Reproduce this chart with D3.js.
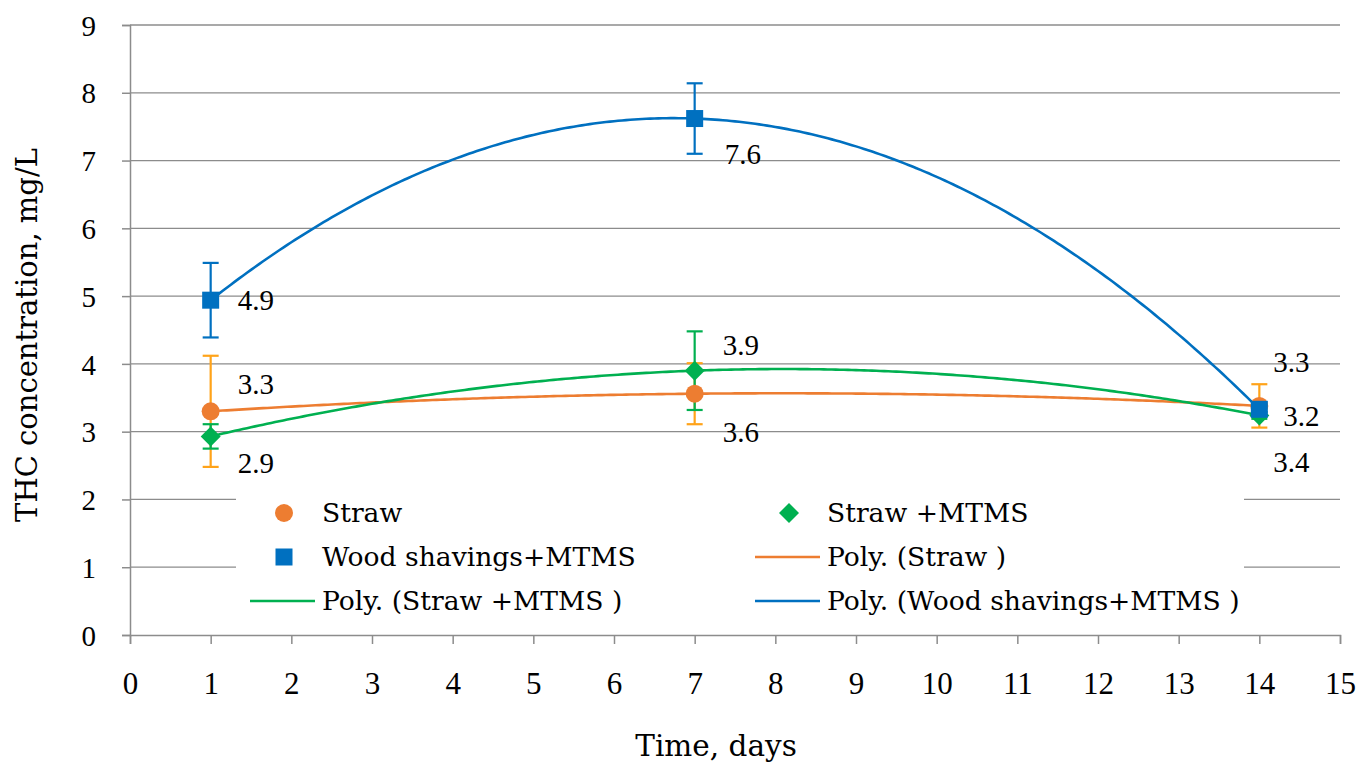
<!DOCTYPE html>
<html><head><meta charset="utf-8">
<script src="https://cdn.jsdelivr.net/npm/d3@7"></script>
<style>body{margin:0;background:#fff}svg{display:block}</style>
</head><body><svg id="c" width="1369" height="764"></svg>
<script>
// ---- data ----
const days = [1, 7, 14];
const straw = [3.30, 3.56, 3.38];
const strawErr = [0.82, 0.45, 0.32];
const strawMTMS = [2.93, 3.90, 3.24];
const strawMTMSErr = [0.18, 0.58, 0.05];
const wood = [4.94, 7.62, 3.33];
const woodErr = [0.55, 0.52, 0.04];
const strawLabels = ["3.3", "3.6", "3.4"];
const strawMTMSLabels = ["2.9", "3.9", "3.2"];
const woodLabels = ["4.9", "7.6", "3.3"];
const xTicks = d3.range(0, 16);
const yTicks = d3.range(0, 10);

// ---- styles ----
const NUMF = '"Liberation Serif", serif';
const TXTF = '"DejaVu Serif", serif';
const series = [
  {name:"Straw", vals:straw, err:strawErr, labels:strawLabels, color:"#ED7D31", errColor:"#FFA319", shape:"circle",
   lab:[[27,-27],[28,38],[14,56]]},
  {name:"Straw +MTMS", vals:strawMTMS, err:strawMTMSErr, labels:strawMTMSLabels, color:"#00B050", errColor:"#00B050", shape:"diamond",
   lab:[[27,26],[28,-26],[24,0]]},
  {name:"Wood shavings+MTMS", vals:wood, err:woodErr, labels:woodLabels, color:"#0070C0", errColor:"#0070C0", shape:"square",
   lab:[[27,0],[30,35],[14,-47]]}
];

const svg = d3.select("#c");
const L=130, R=1340, T=25, B=635;
const x = d3.scaleLinear().domain([0,15]).range([L,R]);
const y = d3.scaleLinear().domain([0,9]).range([B,T]);
const grid="#8c8c8c";

// gridlines
svg.append("g").selectAll("line").data(yTicks.filter(d=>d>0)).join("line")
  .attr("x1",L).attr("x2",R).attr("y1",d=>y(d)).attr("y2",d=>y(d))
  .attr("stroke",grid).attr("stroke-width",1.3);

// axes
const yAxis = svg.append("g").attr("transform",`translate(${L},0)`)
  .call(d3.axisLeft(y).tickValues(yTicks).tickSize(8).tickPadding(26).tickFormat(d3.format("d")));
const xAxis = svg.append("g").attr("transform",`translate(0,${B})`)
  .call(d3.axisBottom(x).tickValues(xTicks).tickSize(9).tickPadding(39).tickFormat(d3.format("d")));
[yAxis,xAxis].forEach(a=>{
  a.attr("font-family",NUMF);
  a.select(".domain").attr("stroke",grid).attr("stroke-width",1.5);
  a.selectAll(".tick line").attr("stroke",grid).attr("stroke-width",1.5);
  a.selectAll(".tick text").attr("fill","#000");
});
yAxis.attr("font-size",29);
xAxis.attr("font-size",31);
yAxis.selectAll(".tick text").attr("dy","0.35em");
xAxis.selectAll(".tick text").attr("dy","0.35em");

// trendlines: order-2 polynomial through the points (same as the chart's Poly. trendline)
function poly(xs, ys){
  return t => xs.reduce((s,xi,i)=>{
    let p=ys[i]; xs.forEach((xj,j)=>{ if(j!==i) p*= (t-xj)/(xi-xj); }); return s+p; },0);
}
const line = d3.line().x(d=>x(d[0])).y(d=>y(d[1]));
series.forEach(s=>{
  const f=poly(days,s.vals);
  const pts=d3.range(1,14.001,0.05).map(t=>[t,f(t)]);
  svg.append("path").attr("d",line(pts)).attr("fill","none").attr("stroke",s.color).attr("stroke-width",2.6);
});

// error bars
series.forEach(s=>{
  const g=svg.append("g").attr("stroke",s.errColor).attr("stroke-width",2.2);
  days.forEach((d,i)=>{
    const cx=x(d), y1=y(s.vals[i]+s.err[i]), y2=y(s.vals[i]-s.err[i]);
    g.append("line").attr("x1",cx).attr("x2",cx).attr("y1",y1).attr("y2",y2);
    g.append("line").attr("x1",cx-8).attr("x2",cx+8).attr("y1",y1).attr("y2",y1);
    g.append("line").attr("x1",cx-8).attr("x2",cx+8).attr("y1",y2).attr("y2",y2);
  });
});

// markers
function marker(g, shape, cx, cy, color){
  if(shape==="circle") g.append("circle").attr("cx",cx).attr("cy",cy).attr("r",9).attr("fill",color);
  else if(shape==="square") g.append("rect").attr("x",cx-8.5).attr("y",cy-8.5).attr("width",17).attr("height",17).attr("fill",color);
  else g.append("path").attr("d",`M${cx},${cy-10}L${cx+10},${cy}L${cx},${cy+10}L${cx-10},${cy}Z`).attr("fill",color);
}
series.forEach(s=>{
  const g=svg.append("g");
  days.forEach((d,i)=>marker(g,s.shape,x(d),y(s.vals[i]),s.color));
});

// data labels
series.forEach(s=>{
  days.forEach((d,i)=>{
    svg.append("text").attr("x",x(d)+s.lab[i][0]).attr("y",y(s.vals[i])+s.lab[i][1])
      .attr("dy","0.35em").attr("font-size",29).attr("font-family",NUMF).text(s.labels[i]);
  });
});

// legend
const lg=svg.append("g");
lg.append("rect").attr("x",236).attr("y",480).attr("width",1008).attr("height",148).attr("fill","#fff");
const legendItems=[
  {txt:"Straw", type:"m", s:series[0], col:0,row:0},
  {txt:"Straw +MTMS", type:"m", s:series[1], col:1,row:0},
  {txt:"Wood shavings+MTMS", type:"m", s:series[2], col:0,row:1},
  {txt:"Poly. (Straw )", type:"l", s:series[0], col:1,row:1},
  {txt:"Poly. (Straw +MTMS )", type:"l", s:series[1], col:0,row:2},
  {txt:"Poly. (Wood shavings+MTMS )", type:"l", s:series[2], col:1,row:2}
];
const colX=[252,757], rowY=[513,557,601];
legendItems.forEach(it=>{
  const x0=colX[it.col], yy=rowY[it.row];
  if(it.type==="m") marker(lg,it.s.shape,x0+32,yy,it.s.color);
  else lg.append("line").attr("x1",x0-2).attr("x2",x0+63).attr("y1",yy).attr("y2",yy).attr("stroke",it.s.color).attr("stroke-width",2.6);
  lg.append("text").attr("x",x0+70).attr("y",yy).attr("dy","0.35em").attr("font-size",26.6).attr("font-family",TXTF).text(it.txt);
});

// axis titles
svg.append("text").attr("x",716).attr("y",746).attr("dy","0.35em").attr("text-anchor","middle")
  .attr("font-size",29.5).attr("font-family",TXTF).text("Time, days");
svg.append("text").attr("transform",`translate(27,335) rotate(-90)`).attr("dy","0.35em").attr("text-anchor","middle")
  .attr("font-size",29).attr("font-family",TXTF).text("THC concentration, mg/L");
</script></body></html>
